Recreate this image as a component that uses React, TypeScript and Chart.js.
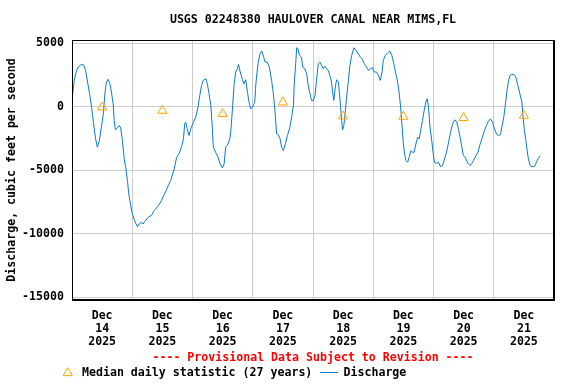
import React, { useEffect, useRef } from "react";
import { Chart, registerables } from "chart.js";

Chart.register(...registerables);

const chartTitle = "USGS 02248380 HAULOVER CANAL NEAR MIMS,FL";
const yAxisTitle = "Discharge, cubic feet per second";
const provisionalNote = "---- Provisional Data Subject to Revision ----";
const medianLegend = "Median daily statistic (27 years)";
const dischargeLegend = "Discharge";

const monthLabel = "Dec";
const yearLabel = "2025";
const dayLabels = ["14", "15", "16", "17", "18", "19", "20", "21"];
const yTicks = [-15000, -10000, -5000, 0, 5000];

// hours since Dec 14 2025 00:00
const dischargeHours = [
  0.2, 0.9, 1.8, 2.7, 3.8, 4.6, 5.4, 6.2, 7.0, 7.8, 8.6, 9.4, 10.1, 10.9, 11.7, 12.5, 13.1, 13.7, 14.4, 15.1,
  15.7, 16.4, 16.8, 17.3, 18.1, 18.8, 19.4, 20.1, 20.8, 21.4, 22.1, 22.6, 23.3, 23.9, 24.7, 25.4, 26.1, 26.9,
  27.7, 28.3, 29.0, 29.8, 30.6, 31.6, 32.7, 33.6, 34.6, 35.6, 36.7, 37.6, 38.5,
  39.3, 40.7, 41.7, 42.6, 43.6, 44.4, 44.9, 45.3, 45.9, 46.6, 47.3, 48.4, 49.3, 50.2, 50.9, 51.6, 52.3, 53.3,
  53.9, 54.6, 55.3, 55.8, 56.3, 57.2, 58.2, 59.0, 59.9, 60.6, 61.2, 62.2, 63.0, 63.5, 64.0, 64.6, 65.2, 65.9,
  66.3, 67.0, 67.9, 68.5, 69.2, 69.9, 70.5, 71.2, 71.9, 72.8, 73.3, 74.1, 74.9, 75.6, 76.3,
  76.9, 77.8, 78.6, 79.5, 80.2, 80.9, 81.5, 82.2, 82.9, 83.5, 84.2, 85.0, 85.8, 86.8, 87.6, 88.2, 88.5, 89.1,
  89.5, 90.0, 90.6, 91.4, 91.9, 92.7, 93.5, 94.1, 94.8, 95.4, 96.1, 96.8, 97.4, 98.1, 98.8, 99.4, 100.1, 100.8,
  101.4, 102.1, 102.7, 103.4, 103.8, 104.3, 104.9, 105.4, 106.1, 106.5, 107.0, 107.4, 107.8, 108.3, 108.9,
  109.4, 110.1, 110.7, 111.4, 112.3, 113.1, 114.0, 115.0,
  115.5, 116.4, 117.3, 118.1, 118.9, 119.7, 120.4, 121.3, 122.1, 122.8, 123.5, 124.0, 124.8, 125.7, 126.6,
  127.4, 128.2, 129.0, 129.7, 130.3, 130.9, 131.4, 132.0, 132.5, 133.0, 133.7, 134.3, 135.0, 135.7, 136.3,
  137.0, 137.7, 138.3, 139.0, 139.6, 140.3, 140.9, 141.5, 142.0, 142.6, 143.3, 143.9, 144.4, 145.2, 146.0,
  146.8, 147.6, 148.4, 149.2, 150.0, 150.8, 151.6, 152.4,
  153.2, 154.0, 154.6, 155.3, 155.9, 156.6, 157.3, 157.9, 158.6, 159.3, 159.9, 160.9, 161.7, 162.6, 163.5,
  164.3, 165.1, 165.9, 166.7, 167.5, 168.3, 169.1, 169.9, 170.7, 171.2, 171.9, 172.5, 173.2, 173.9, 174.5,
  175.2, 176.0, 176.8, 177.6, 178.4, 179.2, 179.7, 180.2, 180.8, 181.3, 181.8, 182.5, 183.2, 184.0, 184.5,
  185.0, 185.6, 186.1, 186.6,
];

const dischargeCfs = [
  894, 2080, 2870, 3180, 3340, 3310, 2870, 1950, 1030, -26, -1340, -2520, -3180, -2660, -1600, -550, 1030, 1950, 2160, 1810,
  1160, 240, -1080, -1810, -1660, -1470, -1660, -2660, -4100, -4760, -5810, -6860, -7650, -8310, -8840, -9180, -9440, -9180,
  -9100, -9230, -9020, -8840, -8650, -8570, -8180, -7970, -7730, -7390, -6920, -6550, -6130,
  -5810, -4890, -3970, -3710, -3180, -2520, -1340, -1210, -1740, -2260, -1740, -1210, -815, -26, 890, 1680, 2080, 2210,
  1810, 1030, 105, -1340, -3180, -3580, -3970, -4500, -4810, -4500, -3180, -2920, -2390, -1340, 105, 1810, 2740, 3000,
  3340, 2740, 2130, 1810, 2130, 1160, 370, -160, -26, 370, 1950, 3390, 4180, 4390, 3950,
  3520, 3520, 3130, 2080, 1030, -420, -2130, -2210, -2520, -3180, -3450, -2920, -2260, -1600, -680, 105, 1680, 3390,
  4650, 4580, 4050, 3920, 3130, 3000, 2600, 1680, 1030, 500, 500, 890, 2080, 3390, 3520, 3260, 3000, 3180,
  3000, 2870, 2470, 1950, 1160, 500, 1550, 2130, 1950, 1160, -26, -1080, -1810, -1470, -290,
  760, 2080, 3260, 4050, 4650, 4440, 4180, 3870,
  3790, 3390, 3130, 2870, 3000, 3080, 2740, 2740, 2470, 2080, 2740, 3660, 4050, 4230, 4390,
  4050, 3390, 2600, 1950, 1160, -26, -1340, -2920, -3710, -4230, -4370, -3970, -3450, -3580, -3580,
  -2920, -2390, -2520, -1740, -1080, -290, 370, 630, -26, -1600, -2660, -3710, -4370, -4450, -4370,
  -4710, -4630, -4100, -3580, -2790, -2000, -1340, -1030,
  -1150, -1800, -2390, -3180, -3840, -3970, -4290, -4500, -4630, -4450, -4230, -3840, -3580, -2920, -2390,
  -1870, -1470, -1130, -950, -1210, -1740, -2130, -2260, -2180, -1600, -950, -26, 1160, 2080, 2470,
  2550, 2550, 2340, 1680, 1030, 370, -815, -1870, -2660, -3450, -4100, -4630, -4710, -4710, -4630,
  -4370, -4100, -3970, -3840,
];

const medianHours = [12, 36, 60, 84, 108, 132, 156, 180];
const medianCfs = [-40, -300, -560, 350, -750, -770, -870, -690];

const FONT_FAMILY = '"DejaVu Sans Mono", monospace';
const FONT_SIZE = 11.6;
const BOLD = `bold ${FONT_SIZE}px ${FONT_FAMILY}`;
const LINE_BLUE = "#0a7ad0";
const MEDIAN_ORANGE = "#ffa500";
const GRID = "#cccccc";

const decorPlugin = {
  id: "decor",
  afterDatasetsDraw(chart: any) {
    const { ctx, chartArea } = chart;
    const { left, right, top, bottom } = chartArea;
    ctx.save();
    // frame
    ctx.fillStyle = "#000";
    ctx.fillRect(left, top, right - left + 1, 1);
    ctx.fillRect(left, top, 1, bottom - top + 1);
    ctx.fillRect(right - 1, top, 2, bottom - top + 1);
    ctx.fillRect(left, bottom - 1, right - left + 1, 2);
    ctx.restore();
  },
  afterDraw(chart: any) {
    const { ctx, chartArea } = chart;
    const cx = (chartArea.left + chartArea.right) / 2;
    const cy = (chartArea.top + chartArea.bottom) / 2;
    ctx.save();
    ctx.font = BOLD;
    ctx.fillStyle = "#000";
    ctx.textBaseline = "middle";
    ctx.textAlign = "center";
    ctx.fillText(chartTitle, cx, 20);

    ctx.save();
    ctx.translate(12, cy);
    ctx.rotate(-Math.PI / 2);
    ctx.fillText(yAxisTitle, 0, 0);
    ctx.restore();

    ctx.fillStyle = "#ff0000";
    ctx.fillText(provisionalNote, cx, 358);

    // legend
    const ly = 373;
    const r = 5.3;
    const tx = 67.7;
    ctx.strokeStyle = MEDIAN_ORANGE;
    ctx.lineWidth = 1;
    ctx.beginPath();
    for (let i = 0; i < 3; i++) {
      const a = (i * 2 * Math.PI) / 3;
      const px = tx + Math.sin(a) * r;
      const py = ly - Math.cos(a) * r;
      if (i === 0) ctx.moveTo(px, py);
      else ctx.lineTo(px, py);
    }
    ctx.closePath();
    ctx.stroke();

    ctx.textAlign = "left";
    ctx.fillStyle = "#000";
    ctx.fillText(medianLegend, 82, ly);

    ctx.strokeStyle = LINE_BLUE;
    ctx.beginPath();
    ctx.moveTo(320, ly - 0.5);
    ctx.lineTo(338, ly - 0.5);
    ctx.stroke();
    ctx.fillText(dischargeLegend, 343.5, ly);
    ctx.restore();
  },
};

export default function App() {
  const ref = useRef<HTMLCanvasElement | null>(null);
  useEffect(() => {
    if (!ref.current) return;
    const discharge = dischargeHours.map((h, i) => ({ x: h, y: dischargeCfs[i] }));
    const medians = medianHours.map((h, i) => ({ x: h, y: medianCfs[i] }));
    const chart = new Chart(ref.current, {
      type: "line",
      data: {
        datasets: [
          {
            label: medianLegend,
            data: medians,
            showLine: false,
            pointStyle: "triangle",
            pointRadius: 5.3,
            pointBorderWidth: 1,
            pointBorderColor: MEDIAN_ORANGE,
            pointBackgroundColor: "rgba(0,0,0,0)",
            order: 0,
          },
          {
            label: dischargeLegend,
            data: discharge,
            borderColor: LINE_BLUE,
            borderWidth: 1,
            pointRadius: 0,
            tension: 0,
            fill: false,
            order: 1,
          },
        ],
      },
      options: {
        responsive: false,
        animation: false,
        devicePixelRatio: 1,
        layout: { padding: { top: 40, right: 22, left: 0, bottom: 0 } },
        plugins: { legend: { display: false }, tooltip: { enabled: false }, title: { display: false } },
        scales: {
          x: {
            type: "linear",
            min: 0,
            max: 192,
            afterBuildTicks: (scale: any) => {
              const t = [];
              for (let v = 0; v <= 192; v += 12) t.push({ value: v });
              scale.ticks = t;
            },
            afterFit: (scale: any) => {
              scale.height = 84;
            },
            border: { display: false },
            grid: {
              drawTicks: false,
              color: (c: any) => (c.tick && c.tick.value % 24 === 0 ? GRID : "rgba(0,0,0,0)"),
              lineWidth: 1,
            },
            ticks: {
              autoSkip: false,
              maxRotation: 0,
              minRotation: 0,
              padding: 9,
              color: "#000",
              font: { family: FONT_FAMILY, size: FONT_SIZE, weight: "bold", lineHeight: 13 / FONT_SIZE },
              callback: (v: any) => {
                const n = Number(v);
                if (n % 24 !== 12) return "";
                return [monthLabel, dayLabels[(n - 12) / 24], yearLabel];
              },
            },
          },
          y: {
            type: "linear",
            min: -15213,
            max: 5260,
            afterBuildTicks: (scale: any) => {
              scale.ticks = yTicks.map((v) => ({ value: v }));
            },
            afterFit: (scale: any) => {
              scale.width = 72;
            },
            border: { display: false },
            grid: { drawTicks: false, color: GRID, lineWidth: 1 },
            ticks: {
              padding: 8,
              color: "#000",
              font: { family: FONT_FAMILY, size: FONT_SIZE, weight: "bold" },
              callback: (v: any) => String(v),
            },
          },
        },
      },
      plugins: [decorPlugin],
    });
    return () => chart.destroy();
  }, []);
  return (
    <div style={{ position: "fixed", left: 0, top: 0, width: 576, height: 384, background: "#fff" }}>
      <canvas ref={ref} width={576} height={384} style={{ display: "block" }} />
    </div>
  );
}
